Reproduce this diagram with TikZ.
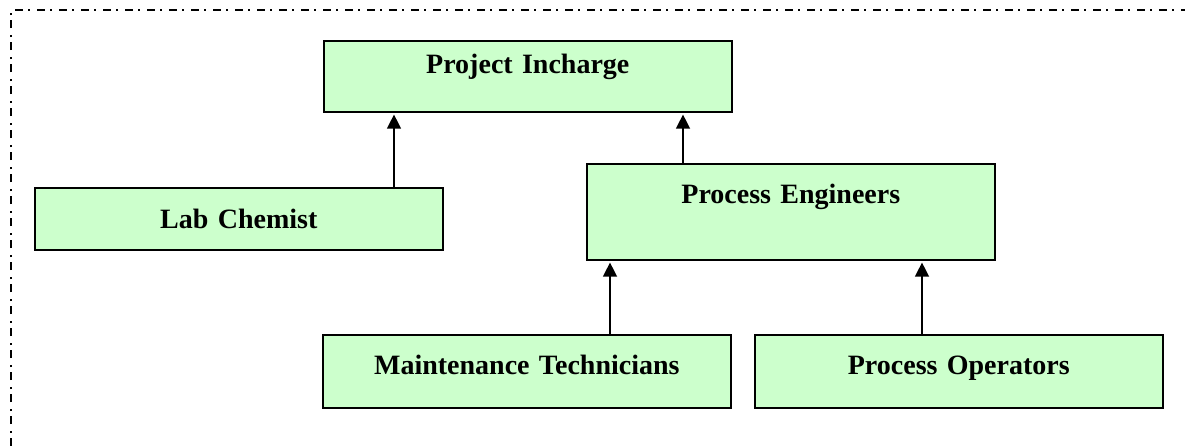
\documentclass[tikz,border=0pt]{standalone}
\usepackage{fontspec}
\setmainfont{Liberation Serif}
\usetikzlibrary{arrows.meta,shadows}

\definecolor{boxgreen}{HTML}{CCFFCC}

\tikzset{
  orgbox/.style={draw, line width=1.2pt, fill=boxgreen, anchor=north west,
    inner sep=0pt, text width=306pt, align=center,
    font=\fontsize{21}{25}\selectfont\bfseries,
    drop shadow={shadow xshift=0.9pt, shadow yshift=-0.9pt, fill=gray!60, opacity=1}},
  uparrow/.style={line width=1pt, -{Triangle[length=10.5pt,width=10.5pt]}, shorten >=1.5pt}
}

\begin{document}
\begin{tikzpicture}[x=0.75pt,y=-0.75pt]
    \useasboundingbox (0,0) rectangle (1185,446);

    % Frame
    \draw[line width=1.1pt, dash pattern=on 6pt off 3.75pt on 1.5pt off 5.25pt]
        (11,446) -- (11,10) -- (1185,10);

    % Boxes
    \node[orgbox, text height=24.75pt, text depth=28.5pt] (incharge) at (323,40) {Project Incharge};
    \node[orgbox, text height=30.75pt, text depth=15.75pt] (chemist) at (34,187) {Lab Chemist};
    \node[orgbox, text height=30pt, text depth=42pt] (engineers) at (586,163) {Process Engineers};
    \node[orgbox, text height=30pt, text depth=24.75pt] (technicians) at (322,334) {Maintenance Technicians};
    \node[orgbox, text height=30pt, text depth=24.75pt] (operators) at (754,334) {Process Operators};

    % Arrows
    \coordinate (xchem) at (394,0);
    \coordinate (xeng) at (683,0);
    \coordinate (xtech) at (610,0);
    \coordinate (xop) at (922,0);
    \draw[uparrow] (chemist.north -| xchem) -- (incharge.south -| xchem);
    \draw[uparrow] (engineers.north -| xeng) -- (incharge.south -| xeng);
    \draw[uparrow] (technicians.north -| xtech) -- (engineers.south -| xtech);
    \draw[uparrow] (operators.north -| xop) -- (engineers.south -| xop);
\end{tikzpicture}
\end{document}
